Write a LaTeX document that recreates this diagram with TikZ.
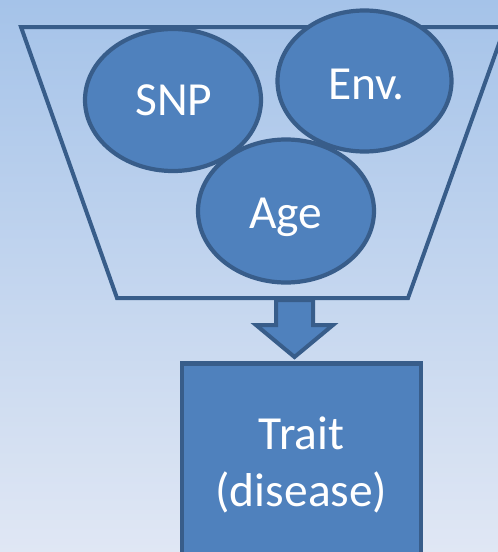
\documentclass[tikz,border=0pt]{standalone}
\usepackage{fontspec}
\setmainfont{Carlito}
\usetikzlibrary{shapes.geometric,calc}
\definecolor{bgtop}{RGB}{165,195,233}
\definecolor{bgbot}{RGB}{224,231,244}
\definecolor{boxfill}{RGB}{79,129,189}
\definecolor{boxline}{RGB}{56,93,138}
\begin{document}
\begin{tikzpicture}[x=1pt,y=-1pt,
  blob/.style={ellipse, draw=boxline, fill=boxfill, line width=4.2pt},
  blobtext/.style={text=white, font=\fontsize{47.5}{57}\selectfont, inner sep=0pt},
  funnel/.style={draw=boxline, line width=4pt},
  bigarrow/.style={draw=boxline, fill=boxfill, line width=4pt, line join=miter},
  traitbox/.style={rectangle, draw=boxline, fill=boxfill, line width=4.2pt, text=white,
    font=\fontsize{47.5}{57}\selectfont, align=center, inner sep=0pt}]
\useasboundingbox (0,0) rectangle (498,552);
\clip (0,0) rectangle (498,552);
\shade[top color=bgtop, bottom color=bgbot] (0,0) rectangle (498,552);
% funnel
\coordinate (ftl) at (21,27);
\coordinate (ftr) at (505,27);
\coordinate (fbr) at (408,298);
\coordinate (fbl) at (117,298);
\draw[funnel] (ftl) -- (ftr) -- (fbr) -- (fbl) -- cycle;
% ellipses
\node[blob, minimum width=176pt, minimum height=142pt] (snp) at (173,100) {};
\node[blobtext] at ($(snp)+(1,0)$) {SNP};
\node[blob, minimum width=174pt, minimum height=141pt] (env) at (364.5,81) {};
\node[blobtext] at ($(env)+(2,3)$) {Env.};
\node[blob, minimum width=176pt, minimum height=143pt] (age) at (286,211) {};
\node[blobtext] at ($(age)+(0,6)$) {Age};
% block arrow
\coordinate (atop) at (294.5,300);
\draw[bigarrow] ($(atop)+(-18.5,0)$) -- ($(atop)+(18.5,0)$) -- ($(atop)+(18.5,25)$)
  -- ($(atop)+(38.5,25)$) -- ($(atop)+(0,57)$) -- ($(atop)+(-38.5,25)$)
  -- ($(atop)+(-18.5,25)$) -- cycle;
% trait box
\node[traitbox, minimum width=239pt, minimum height=203pt] (trait) at (301.5,465)
  {Trait\\(disease)};
\end{tikzpicture}
\end{document}
